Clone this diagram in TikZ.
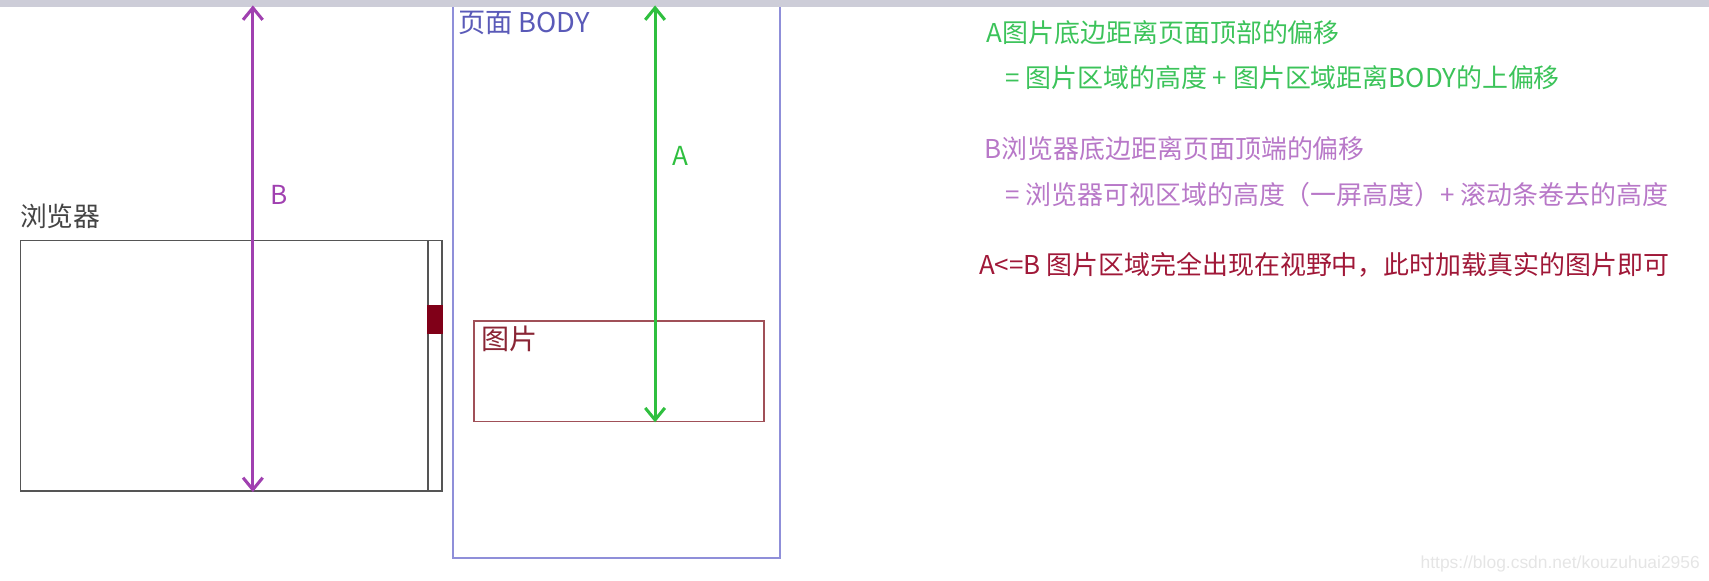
\documentclass[tikz,border=0pt]{standalone}
\usepackage{fontspec}
\setmainfont{Noto Sans CJK SC}
\newfontfamily\markfont{Liberation Sans}
\usetikzlibrary{arrows.meta}
\definecolor{barGray}{HTML}{CDCDD8}
\definecolor{frameGray}{HTML}{555555}
\definecolor{bodyBlue}{HTML}{8F8FD9}
\definecolor{bodyText}{HTML}{5A5AB8}
\definecolor{picRed}{HTML}{A05058}
\definecolor{picText}{HTML}{8A2535}
\definecolor{thumbRed}{HTML}{800018}
\definecolor{aGreen}{HTML}{2FBF3F}
\definecolor{aText}{HTML}{3CC35A}
\definecolor{bPurple}{HTML}{A040B0}
\definecolor{bText}{HTML}{B878C8}
\definecolor{ruleRed}{HTML}{A01838}
\begin{document}
\begin{tikzpicture}[x=0.5pt, y=-0.5pt,
  box/.style={draw, line width=0.75pt, inner sep=0pt, anchor=north west},
  span/.style={line width=1.4pt, {Straight Barb[length=5.5pt,width=9pt]}-{Straight Barb[length=5.5pt,width=9pt]}},
  note/.style={anchor=base west, inner sep=0pt, font=\fontsize{11.9}{14}\selectfont}]
\useasboundingbox (0,0) rectangle (1568,533);
% page body and picture
\node [box, draw=bodyBlue, minimum width=150pt, minimum height=254pt] (body) at (415,3) {};
\node [anchor=base west, inner sep=0pt, text=bodyText, font=\fontsize{12.5}{14}\selectfont] (bodylabel) at (420,30) {页面 BODY};
\node [box, draw=picRed, minimum width=133pt, minimum height=46pt] (pic) at (434,294) {};
\node [anchor=base west, inner sep=0pt, text=picText, font=\fontsize{12.9}{14}\selectfont] (piclabel) at (441,321) {图片};
% browser window with scroll bar
\node [box, draw=frameGray, minimum width=193.5pt, minimum height=115pt] (browser) at (18,220) {};
\node [box, draw=frameGray, minimum width=6.5pt, minimum height=115pt] (scroll) at (392,220) {};
\node [box, draw=thumbRed, fill=thumbRed, minimum width=6.5pt, minimum height=12.5pt] (thumb) at (392,280) {};
\node [anchor=base west, inner sep=0pt, text=frameGray!80!black, font=\fontsize{12.3}{14}\selectfont] (browserlabel) at (18,208) {浏览器};
% top of the page
\fill [barGray] (0,0) rectangle (1568,6);
\coordinate (btop) at (232,5);
\coordinate (atop) at (601,5);
\draw [span, draw=bPurple] (btop) -- (browser.south -| btop)
  node [pos=0.39, right=4pt, text=bPurple, font=\fontsize{12}{14}\selectfont] (blabel) {B};
\draw [span, draw=aGreen] (atop) -- (pic.south -| atop)
  node [pos=0.36, right=4pt, text=aGreen, font=\fontsize{12}{14}\selectfont] (alabel) {A};
% notes
\node [note, text=aText] (a1) at (905,39) {A图片底边距离页面顶部的偏移};
\node [note, text=aText] (a2) at (922,80) {= 图片区域的高度 + 图片区域距离BODY的上偏移};
\node [note, text=bText] (b1) at (903,145) {B浏览器底边距离页面顶端的偏移};
\node [note, text=bText] (b2) at (922,188) {= 浏览器可视区域的高度（一屏高度）+ 滚动条卷去的高度};
\node [note, text=ruleRed] (rule) at (898,252) {A<=B 图片区域完全出现在视野中，此时加载真实的图片即可};
\node [anchor=base east, inner sep=0pt, text=black!10, font=\markfont\fontsize{8}{9}\selectfont] (mark) at (1560,522) {https://blog.csdn.net/kouzuhuai2956};
\end{tikzpicture}
\end{document}
